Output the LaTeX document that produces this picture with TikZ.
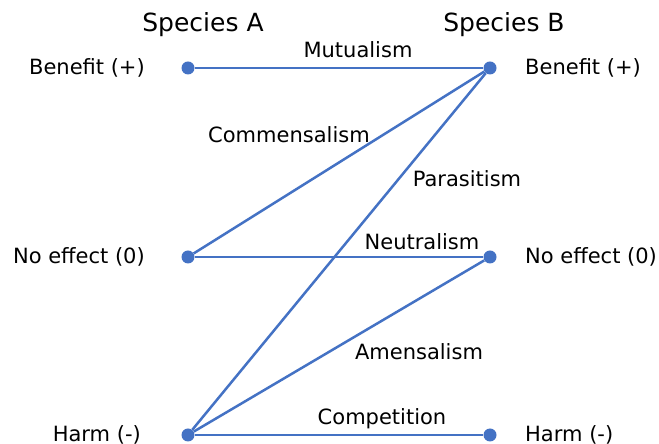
\documentclass[tikz,border=0pt]{standalone}
\usepackage{fontspec}
\setmainfont{DejaVu Sans}
\definecolor{linkblue}{HTML}{4472C4}
\begin{document}
\begin{tikzpicture}[x=1pt,y=1pt,
  dot/.style={circle,fill=linkblue,inner sep=0pt,minimum size=13pt},
  link/.style={draw=linkblue,line width=2.5pt},
  lbl/.style={font=\fontsize{21}{25}\selectfont,inner sep=0pt},
  head/.style={font=\fontsize{25}{30}\selectfont,inner sep=0pt}]
\useasboundingbox (0,0) rectangle (659,444);
% column titles
\node[head] (titleA) at (203,419) {Species A};
\node[head] (titleB) at (504,419) {Species B};
% effect points
\node[dot] (aplus) at (188,376) {};
\node[dot] (azero) at (188,187) {};
\node[dot] (aminus) at (188,9) {};
\node[dot] (bplus) at (490,376) {};
\node[dot] (bzero) at (490,187) {};
\node[dot] (bminus) at (490,9) {};
% effect names
\node[lbl,anchor=east] (la1) at (145,376) {Benefit (+)};
\node[lbl,anchor=east] (la2) at (145,187) {No effect (0)};
\node[lbl,anchor=east] (la3) at (141,9) {Harm (-)};
\node[lbl,anchor=west] (lb1) at (525,376) {Benefit (+)};
\node[lbl,anchor=west] (lb2) at (525,187) {No effect (0)};
\node[lbl,anchor=west] (lb3) at (525,9) {Harm (-)};
% interactions
\draw[link] (aplus) -- (bplus);
\draw[link] (azero) -- (bplus);
\draw[link] (aminus) -- (bplus);
\draw[link] (azero) -- (bzero);
\draw[link] (aminus) -- (bzero);
\draw[link] (aminus) -- (bminus);
\node[lbl] (mut) at (358,394) {Mutualism};
\node[lbl] (com) at (289,309) {Commensalism};
\node[lbl] (par) at (467,265) {Parasitism};
\node[lbl] (neu) at (422,202) {Neutralism};
\node[lbl] (ame) at (419,92) {Amensalism};
\node[lbl] (cmp) at (382,25) {Competition};
\end{tikzpicture}
\end{document}
